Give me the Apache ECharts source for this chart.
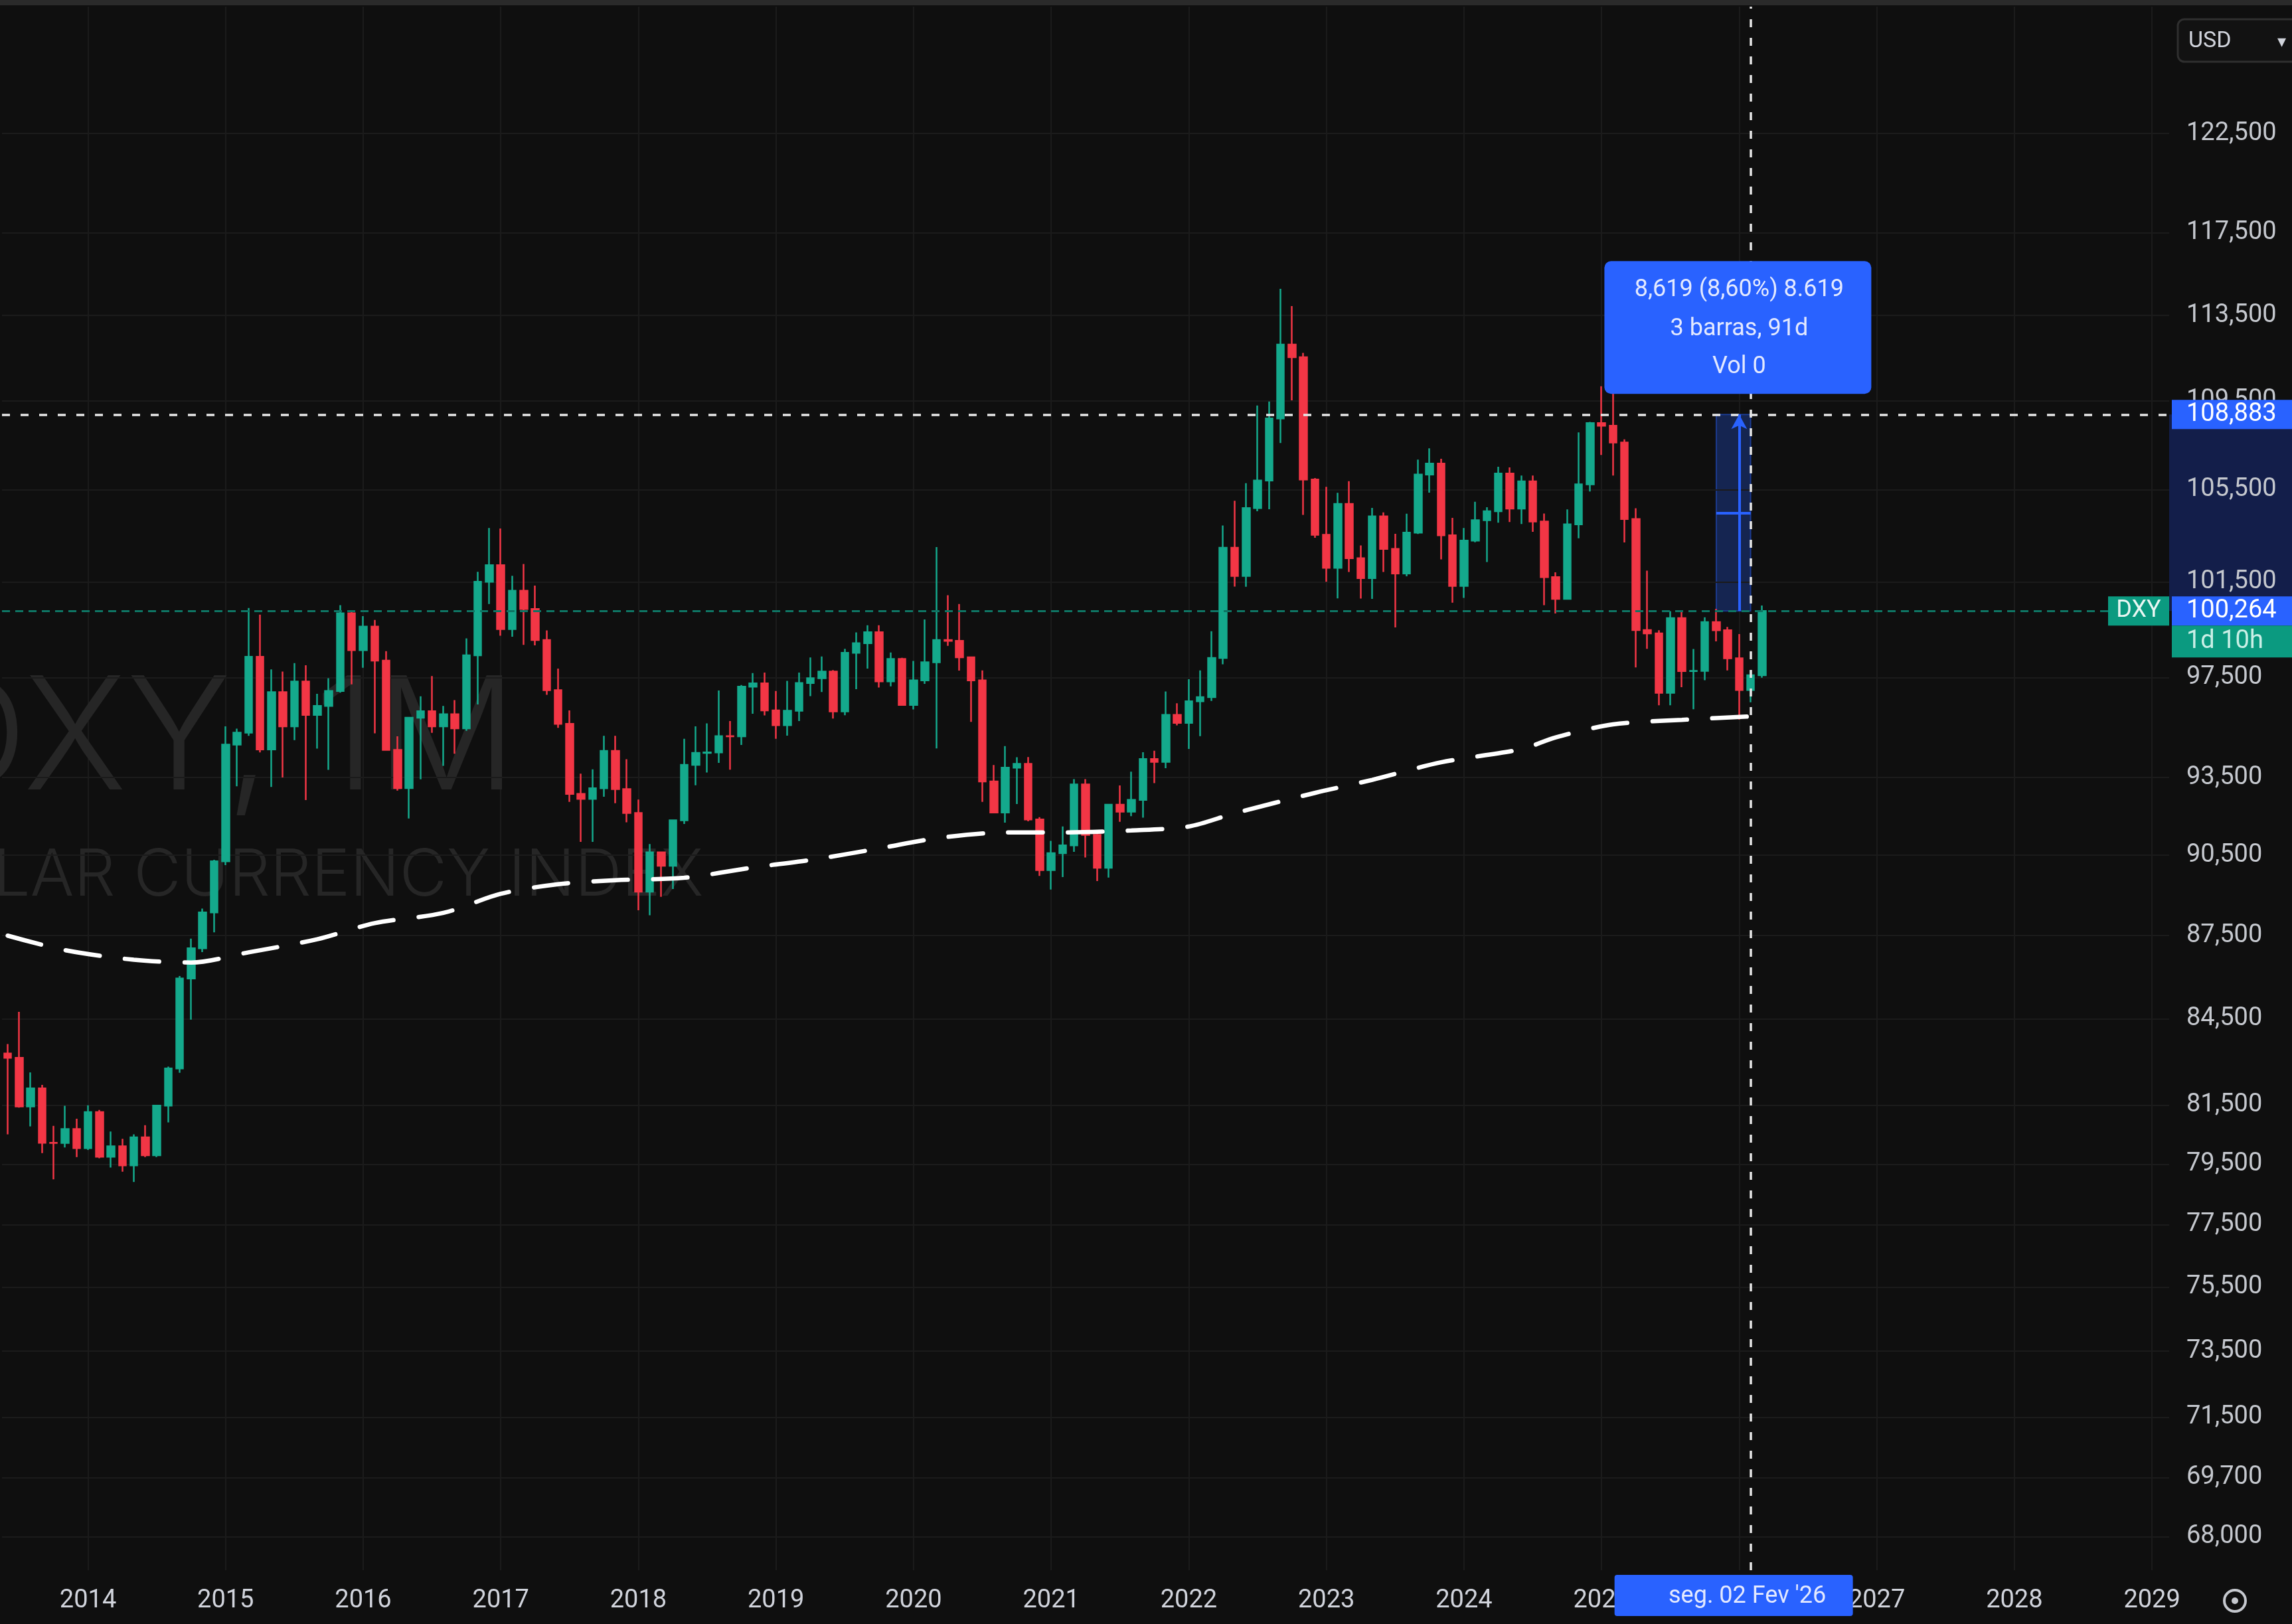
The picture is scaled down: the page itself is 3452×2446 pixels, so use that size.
<!DOCTYPE html>
<html><head><meta charset="utf-8">
<script src="https://cdn.jsdelivr.net/npm/echarts@6/dist/echarts.min.js"></script>
<style>html,body{margin:0;padding:0;background:#0f0f0f;overflow:hidden}#c{width:3452px;height:2446px}</style>
</head><body><div id="c"></div>
<script>
// Monthly DXY candles, each row [open, close, low, high]
const y2013 = [ // Jun..Dec
 [83.28,83.13,80.50,83.61],[83.13,81.45,81.41,84.75],[81.45,82.07,80.77,82.62],
 [82.07,80.22,79.87,82.19],[80.22,80.21,79.00,80.79],[80.21,80.68,80.06,81.47],[80.68,80.04,79.74,81.03]];
const y2014 = [
 [80.04,81.26,79.98,81.49],[81.26,79.75,79.70,81.33],[79.75,80.10,79.39,80.60],[80.10,79.46,79.25,80.35],
 [79.46,80.40,78.91,80.50],[80.40,79.80,79.74,80.81],[79.80,81.48,79.74,81.50],[81.48,82.76,80.91,82.82],
 [82.76,85.94,82.61,86.03],[85.94,87.04,84.47,87.39],[87.04,88.36,86.90,88.50],[88.36,90.27,87.62,90.33]];
const y2015 = [
 [90.27,94.80,90.13,95.53],[94.80,95.28,93.16,95.44],[95.28,98.36,95.15,100.39],[98.36,94.61,94.49,100.11],
 [94.61,96.91,93.13,97.84],[96.91,95.53,93.50,97.75],[95.53,97.34,94.98,98.10],[97.34,95.99,92.62,98.01],
 [95.99,96.35,94.64,96.84],[96.35,96.96,93.80,97.48],[96.96,100.17,96.89,100.51],[100.17,98.63,97.23,100.27]];
const y2016 = [
 [98.63,99.61,97.91,100.05],[99.61,98.20,95.25,99.89],[98.20,94.59,94.57,98.59],[94.59,93.09,92.99,95.13],
 [93.09,95.88,91.91,95.90],[95.88,96.14,93.43,96.74],[96.14,95.53,95.27,97.57],[95.53,96.02,93.96,96.35],
 [96.02,95.45,94.44,96.59],[95.45,98.42,95.35,99.12],[98.42,101.50,96.41,101.93],[101.50,102.21,100.56,103.82]];
const y2017 = [
 [102.21,99.51,99.23,103.80],[99.51,101.12,99.19,101.76],[101.12,100.35,98.85,102.26],[100.35,99.05,98.83,101.34],
 [99.05,96.99,96.80,99.45],[96.99,95.63,95.47,97.87],[95.63,92.86,92.55,96.17],[92.86,92.67,91.01,93.65],
 [92.67,93.08,91.01,93.82],[93.08,94.55,92.75,95.15],[94.55,93.05,92.50,95.15],[93.05,92.12,91.76,94.22]];
const y2018 = [
 [92.12,89.13,88.44,92.64],[89.13,90.61,88.25,90.93],[90.61,90.10,88.94,90.64],[90.10,91.84,89.23,91.86],
 [91.84,94.00,91.70,95.03],[94.00,94.47,93.20,95.53],[94.47,94.49,93.70,95.65],[94.49,95.14,94.08,96.98],
 [95.14,95.13,93.81,95.74],[95.13,97.13,94.79,97.20],[97.13,97.27,96.04,97.69],[97.27,96.17,95.97,97.71]];
const y2019 = [
 [96.17,95.58,95.03,96.96],[95.58,96.16,95.16,97.37],[96.16,97.28,95.74,97.71],[97.28,97.48,96.75,98.33],
 [97.48,97.75,96.92,98.37],[97.75,96.13,95.84,97.81],[96.13,98.52,95.98,98.69],[98.52,98.92,97.03,99.37],
 [98.92,99.38,97.87,99.67],[99.38,97.35,97.10,99.67],[97.35,98.27,97.15,98.54],[98.27,96.39,96.36,98.32]];
const y2020 = [
 [96.39,97.39,96.21,98.19],[97.39,98.13,97.25,99.91],[98.13,99.05,94.65,102.99],[99.05,99.02,98.81,100.93],
 [99.02,98.34,97.79,100.56],[98.34,97.39,95.71,98.36],[97.39,93.35,92.55,97.80],[93.35,92.14,92.13,93.99],
 [92.14,93.89,91.75,94.74],[93.89,94.04,92.47,94.30],[94.04,91.87,91.80,94.31],[91.87,89.94,89.72,91.96]];
const y2021 = [
 [89.94,90.58,89.21,91.05],[90.58,90.88,89.68,91.60],[90.88,93.23,90.63,93.44],[93.23,91.28,90.42,93.44],
 [91.28,90.03,89.53,91.43],[90.03,92.44,89.66,92.45],[92.44,92.17,91.78,93.19],[92.17,92.63,92.00,93.73],
 [92.63,94.23,91.94,94.50],[94.23,94.12,93.28,94.56],[94.12,95.99,93.87,96.94],[95.99,95.67,95.57,96.46]];
const y2022 = [
 [95.67,96.54,94.63,97.44],[96.54,96.71,95.14,97.80],[96.71,98.31,96.55,99.42],[98.31,102.96,98.05,103.93],
 [102.96,101.75,101.30,105.01],[101.75,104.69,101.29,105.79],[104.69,105.91,104.55,109.29],[105.91,108.70,104.64,109.48],
 [108.70,112.12,107.59,114.78],[112.12,111.53,109.53,113.95],[111.53,105.95,104.39,111.73],[105.95,103.52,103.39,106.02]];
const y2023 = [
 [103.52,102.10,101.50,105.63],[102.10,104.87,100.80,105.36],[104.87,102.51,101.92,105.88],[102.51,101.66,100.79,103.06],
 [101.66,104.33,100.78,104.70],[104.33,102.91,101.92,104.50],[102.91,101.86,99.58,103.57],[101.86,103.62,101.74,104.44],
 [103.62,106.17,103.56,106.84],[106.17,106.66,105.37,107.35],[106.66,103.50,102.46,106.88],[103.50,101.33,100.62,104.26]];
const y2024 = [
 [101.33,103.27,100.82,103.82],[103.27,104.16,103.20,104.97],[104.16,104.55,102.35,104.73],[104.55,106.22,104.05,106.52],
 [106.22,104.67,104.08,106.49],[104.67,105.87,103.99,106.13],[105.87,104.10,103.65,106.13],[104.10,101.70,100.51,104.45],
 [101.70,100.78,100.16,101.91],[100.78,103.98,100.74,104.63],[103.98,105.74,103.37,108.07],[105.74,108.49,105.42,108.54]];
const y2025 = [
 [108.49,108.37,107.05,110.18],[108.37,107.61,106.13,109.88],[107.61,104.21,103.19,107.75],[104.21,99.47,97.92,104.68],
 [99.47,99.33,98.69,101.98],[99.33,96.88,96.38,99.46],[96.88,99.97,96.38,100.26],[99.97,97.77,97.11,100.26],
 [97.77,97.78,96.22,98.68],[97.78,99.80,97.40,100.00],[99.80,99.46,99.00,100.36],[99.46,98.30,97.80,99.60]];
const y2026 = [ // Jan..Mar
 [98.30,97.00,95.80,99.30],[97.00,97.60,96.50,97.80],[97.60,100.264,97.50,100.50]];

// long moving-average style dashed line, read at sampled months
const maPoints = [
 ['2013-06',87.50],['2013-11',86.97],['2014-05',86.62],['2014-10',86.52],['2015-03',86.89],['2015-09',87.37],
 ['2016-02',87.96],['2016-08',88.34],['2017-01',89.05],['2017-06',89.41],['2017-11',89.56],['2018-05',89.65],
 ['2018-11',90.04],['2019-04',90.32],['2019-10',90.76],['2020-03',91.15],['2020-09',91.37],['2021-02',91.37],
 ['2021-08',91.45],['2022-01',91.60],['2022-05',92.11],['2022-12',92.90],['2023-05',93.41],['2023-11',94.10],
 ['2024-06',94.62],['2024-09',95.09],['2025-02',95.61],['2025-08',95.79],['2026-03',95.95]];

// price-axis tick labels
const yTicks = [68,69.7,71.5,73.5,75.5,77.5,79.5,81.5,84.5,87.5,90.5,93.5,97.5,101.5,105.5,109.5,113.5,117.5,122.5];

// annotation values
const lastPrice = 100.264;
const crossPrice = 108.883;
const crossMonth = '2026-02';
const measureFrom = '2025-11';
const measureTo = '2026-02';
const measureText = ['8,619 (8,60%) 8.619', '3 barras, 91d', 'Vol 0'];
const crossDateText = "seg. 02 Fev '26";
const countdownText = '1d 10h';
const watermark = ['DXY, 1M', 'U.S. DOLLAR CURRENCY INDEX'];

const months = [];
for (let y = 2013; y <= 2029; y++) {
  for (let m = 1; m <= 12; m++) {
    if (y === 2013 && m < 6) continue;
    if (y === 2029 && m > 2) break;
    months.push(y + '-' + String(m).padStart(2, '0'));
  }
}
const candles = [].concat(y2013,y2014,y2015,y2016,y2017,y2018,y2019,y2020,y2021,y2022,y2023,y2024,y2025,y2026);
const fmt = v => v.toFixed(3).replace('.', ',');
const UP = '#14a98c', DOWN = '#f23645', BLUE = '#2962ff';
const FONT = 'Roboto, "Noto Sans", sans-serif';

const iFrom = months.indexOf(measureFrom), iTo = months.indexOf(measureTo);
const iMid = (iFrom + iTo) / 2;
const midPrice = Math.sqrt(lastPrice * crossPrice);

const chart = echarts.init(document.getElementById('c'), null, {width: 3452, height: 2446});
chart.setOption({
  backgroundColor: '#0f0f0f',
  animation: false,
  grid: {left: 3, right: 185, top: 10, bottom: 81},
  xAxis: {
    type: 'category', data: months, boundaryGap: true,
    axisLine: {show: false}, axisTick: {show: false},
    axisLabel: {interval: (i, v) => v.endsWith('-01'), formatter: v => v.slice(0, 4),
      color: '#d1d4dc', fontSize: 38, fontFamily: FONT, margin: 27},
    splitLine: {show: true, interval: (i, v) => v.endsWith('-01'), alignWithLabel: true,
      lineStyle: {color: '#1b1b1b', width: 2}}
  },
  yAxis: {
    type: 'log', min: 67.05, max: 129.2, position: 'right',
    axisLine: {show: false}, axisTick: {show: false}, axisLabel: {show: false}, splitLine: {show: false}
  },
  series: [
    {
      type: 'candlestick', name: 'DXY', data: candles, z: 3, barWidth: 11,
      itemStyle: {color: UP, color0: DOWN, borderColor: UP, borderColor0: DOWN, borderWidth: 2.5},
      markLine: {
        silent: true, z: 1, symbol: ['none', 'none'], animation: false,
        lineStyle: {color: '#1b1b1b', width: 2, type: 'solid'},
        label: {show: true, position: 'end', distance: 26, formatter: p => fmt(p.value),
          color: '#c5c8ce', fontSize: 38, fontFamily: FONT},
        data: yTicks.map(v => ({yAxis: v}))
      },
      markArea: {
        silent: true,
        itemStyle: {color: 'rgba(41,98,255,0.28)', borderColor: 'rgba(41,98,255,0.45)', borderWidth: 2},
        data: [[{xAxis: measureFrom, yAxis: lastPrice}, {xAxis: measureTo, yAxis: crossPrice}]]
      }
    },
    {
      type: 'line', name: 'MA', data: maPoints, z: 5, symbol: 'none', smooth: 0.3,
      lineStyle: {color: '#ffffff', width: 6.5, type: [52, 38], cap: 'round'},
      markLine: {
        silent: true, z: 6, symbol: ['none', 'none'], animation: false,
        label: {show: false},
        data: [
          {yAxis: lastPrice, lineStyle: {color: '#0e7564', width: 3, type: [12, 8]}},
          {yAxis: crossPrice, lineStyle: {color: '#e6e6e6', width: 3.5, type: [12, 16]}},
          {xAxis: crossMonth, lineStyle: {color: '#e6e6e6', width: 3.5, type: [12, 16]}},
          [{coord: [iMid, lastPrice], symbol: 'none'}, {coord: [iMid, crossPrice], symbol: 'arrow', symbolSize: [18, 22],
            lineStyle: {color: BLUE, width: 4, type: 'solid'}}],
          [{coord: [iFrom, midPrice], symbol: 'none'}, {coord: [iTo, midPrice], symbol: 'none',
            lineStyle: {color: BLUE, width: 4, type: 'solid'}}]
        ]
      }
    }
  ]
});

const yTop = chart.convertToPixel({yAxisIndex: 0}, crossPrice);
const yLast = chart.convertToPixel({yAxisIndex: 0}, lastPrice);
const xCross = chart.convertToPixel({xAxisIndex: 0}, crossMonth);
const xMid = chart.convertToPixel({xAxisIndex: 0}, iMid);
const gridRight = 3452 - 185, gridBottom = 2446 - 81;
const lab = (x, y, text, color) => ({
  type: 'text', x: x, y: y, z: 12,
  style: {text: text, fill: color, font: '38px ' + FONT, textVerticalAlign: 'middle', textAlign: 'left'}
});

chart.setOption({graphic: [
  // watermark
  {type: 'text', x: 325, y: 1118, z: 0, style: {text: watermark[0], fill: '#262626', font: '300 236px Inter, Roboto, sans-serif', textAlign: 'center', textVerticalAlign: 'middle'}},
  {type: 'text', x: 318, y: 1320, z: 0, style: {text: watermark[1], fill: '#262626', font: '300 98px Inter, Roboto, sans-serif', textAlign: 'center', textVerticalAlign: 'middle'}},
  // top bar
  {type: 'rect', shape: {x: 0, y: 0, width: 3452, height: 8}, z: 12, style: {fill: '#2a2a2a'}},
  // price-axis highlighted range
  {type: 'rect', shape: {x: gridRight, y: yTop, width: 185, height: yLast - yTop}, z: 0, style: {fill: '#131e4a'}},
  // cross price label
  {type: 'rect', shape: {x: gridRight + 4, y: yTop - 22, width: 185, height: 44}, z: 11, style: {fill: BLUE}},
  lab(3293, yTop, fmt(crossPrice), '#ffffff'),
  // last price label and countdown
  {type: 'rect', shape: {x: gridRight + 4, y: yLast - 22, width: 185, height: 44}, z: 11, style: {fill: BLUE}},
  lab(3293, yLast, fmt(lastPrice), '#ffffff'),
  {type: 'rect', shape: {x: gridRight + 4, y: yLast + 22, width: 185, height: 48}, z: 11, style: {fill: '#0b9a80'}},
  lab(3293, yLast + 46, countdownText, '#c9efe6'),
  // symbol tag
  {type: 'rect', shape: {x: gridRight - 92, y: yLast - 22, width: 92, height: 44}, z: 11, style: {fill: '#0b9a80'}},
  {type: 'text', x: gridRight - 46, y: yLast, z: 12, style: {text: 'DXY', fill: '#eaf7f3', font: '36px ' + FONT, textAlign: 'center', textVerticalAlign: 'middle'}},
  // measure tooltip
  {type: 'rect', shape: {x: xMid - 203, y: yTop - 231, width: 402, height: 200, r: 10}, z: 11, style: {fill: BLUE}},
  {type: 'text', x: xMid, y: yTop - 187, z: 12, style: {text: measureText[0], fill: '#e3e9ff', font: '36px ' + FONT, textAlign: 'center', textVerticalAlign: 'middle'}},
  {type: 'text', x: xMid, y: yTop - 128, z: 12, style: {text: measureText[1], fill: '#e3e9ff', font: '36px ' + FONT, textAlign: 'center', textVerticalAlign: 'middle'}},
  {type: 'text', x: xMid, y: yTop - 71, z: 12, style: {text: measureText[2], fill: '#e3e9ff', font: '36px ' + FONT, textAlign: 'center', textVerticalAlign: 'middle'}},
  // crosshair date label
  {type: 'rect', shape: {x: xCross - 205, y: gridBottom + 7, width: 359, height: 62, r: 4}, z: 11, style: {fill: BLUE}},
  {type: 'text', x: xCross - 5, y: gridBottom + 40, z: 12, style: {text: crossDateText, fill: '#e3e9ff', font: '36px ' + FONT, textAlign: 'center', textVerticalAlign: 'middle'}},
  // currency selector
  {type: 'rect', shape: {x: 3280, y: 29, width: 190, height: 64, r: 10}, z: 11, style: {fill: '#121212', stroke: '#2f2f2f', lineWidth: 3}},
  {type: 'text', x: 3296, y: 62, z: 12, style: {text: 'USD', fill: '#d1d4dc', font: '34px ' + FONT, textVerticalAlign: 'middle'}},
  {type: 'text', x: 3430, y: 64, z: 12, style: {text: '▾', fill: '#d1d4dc', font: '26px ' + FONT, textVerticalAlign: 'middle'}},
  // settings icon
  {type: 'circle', shape: {cx: 3366, cy: 2411, r: 16}, z: 12, style: {fill: 'none', stroke: '#c5c8ce', lineWidth: 4}},
  {type: 'circle', shape: {cx: 3366, cy: 2411, r: 5}, z: 12, style: {fill: '#c5c8ce'}}
]});
</script>
</body></html>
